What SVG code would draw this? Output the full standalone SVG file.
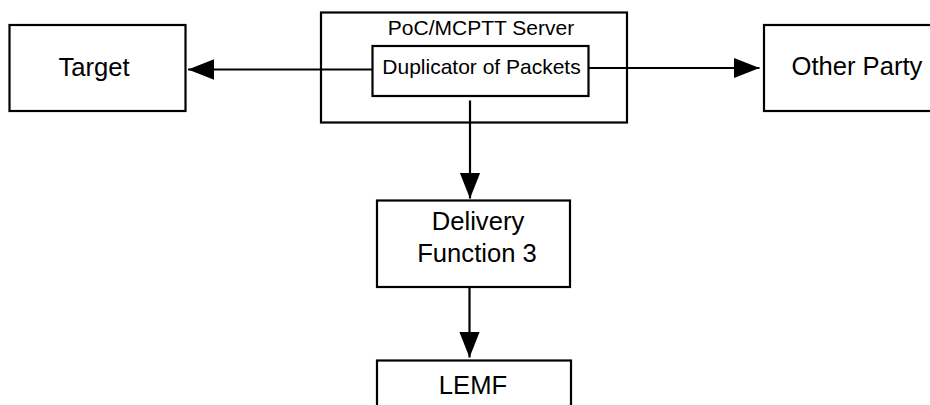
<svg xmlns="http://www.w3.org/2000/svg" width="930" height="405" viewBox="0 0 930 405">
<style>
.box{fill:#fff;stroke:#000;stroke-width:2.2}
.lbl{font-family:"Liberation Sans",Arial,sans-serif;fill:#000}
.big{font-size:25.6px}
.small{font-size:21px}
.con{stroke:#000;stroke-width:2.2;fill:none}
</style>
<defs>
<marker id="arr" markerUnits="userSpaceOnUse" markerWidth="26" markerHeight="22" viewBox="0 0 24 19" refX="24" refY="9.5" orient="auto">
<path d="M0,0 L24,9.5 L0,19 Z" fill="#000"/>
</marker>
</defs>
<rect width="930" height="405" fill="#fff"/>
<g id="target">
<rect class="box" x="9.5" y="25" width="176" height="86"/>
<text class="lbl big" x="94" y="76" text-anchor="middle">Target</text>
</g>
<g id="server">
<rect class="box" x="321" y="12.5" width="306" height="110"/>
<text class="lbl small" x="481" y="35" text-anchor="middle">PoC/MCPTT Server</text>
</g>
<g id="duplicator">
<rect class="box" x="372.5" y="46" width="216" height="50"/>
<text class="lbl small" x="481.5" y="73.5" text-anchor="middle">Duplicator of Packets</text>
</g>
<g id="other">
<rect class="box" x="764" y="25" width="200" height="86"/>
<text class="lbl big" x="791.5" y="75">Other Party</text>
</g>
<g id="df3">
<rect class="box" x="377" y="200.5" width="193" height="86.5"/>
<text class="lbl big" x="478" y="230" text-anchor="middle">Delivery</text>
<text class="lbl big" x="477" y="261.5" text-anchor="middle">Function 3</text>
</g>
<g id="lemf">
<rect class="box" x="377" y="360.5" width="194" height="90"/>
<text class="lbl big" x="473" y="394" text-anchor="middle">LEMF</text>
</g>
<g id="connectors">
<line class="con" x1="372.5" y1="69.5" x2="188" y2="69.5" marker-end="url(#arr)"/>
<line class="con" x1="588.5" y1="68" x2="759.5" y2="68" marker-end="url(#arr)"/>
<line class="con" x1="470" y1="100.5" x2="470" y2="198.5" marker-end="url(#arr)"/>
<line class="con" x1="469.5" y1="287" x2="469.5" y2="357.5" marker-end="url(#arr)"/>
</g>
</svg>
